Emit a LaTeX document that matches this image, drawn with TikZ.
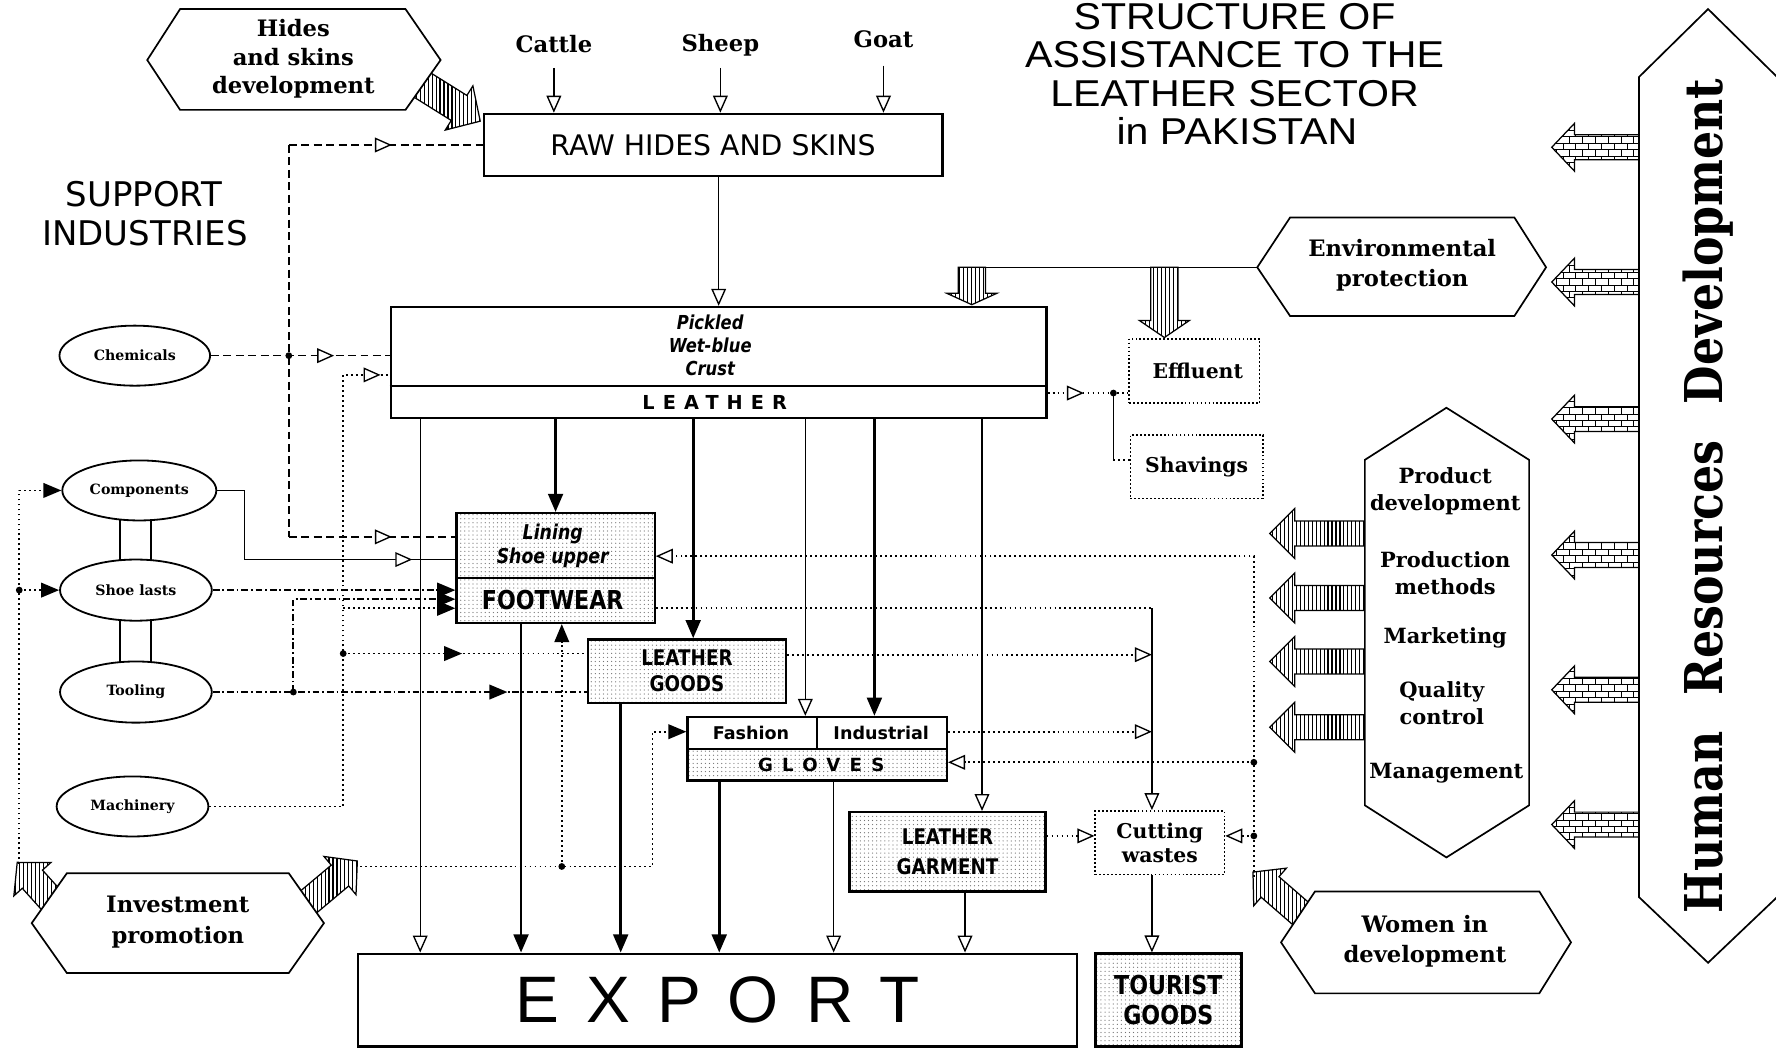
\documentclass[tikz,border=0pt]{standalone}
\usepackage{fontspec}
\setmainfont{DejaVu Serif}
\newfontfamily\serf{DejaVu Serif}
\newfontfamily\hrdf{DejaVu Serif}[FakeStretch=0.85]
\newfontfamily\dsans{DejaVu Sans}
\newfontfamily\csans{DejaVu Sans}[FakeStretch=0.85]
\newfontfamily\lsans{Liberation Sans}
\newfontfamily\tsans{Liberation Sans}[FakeStretch=1.1]
\usetikzlibrary{arrows.meta,decorations.markings,patterns,patterns.meta,backgrounds,shapes.geometric}
\newcommand{\fsz}[2]{\fontsize{#1pt}{#2pt}\selectfont}
% #1 style, #2 x, #3 y, #4 angle, #5 length, #6 body width, #7 head width, #8 head length
\newcommand{\fatarrow}[8]{%
 \pgfmathsetmacro{\FAc}{cos(#4)}\pgfmathsetmacro{\FAs}{-sin(#4)}%
 \pgfmathsetmacro{\FAl}{#5-#8}%
 \pgfmathsetmacro{\FAw}{(#6)/2}\pgfmathsetmacro{\FAh}{(#7)/2}%
 \path[#1]
  ({#2-\FAw*(\FAs)},{#3+\FAw*(\FAc)}) --
  ({#2+\FAl*(\FAc)-\FAw*(\FAs)},{#3+\FAl*(\FAs)+\FAw*(\FAc)}) --
  ({#2+\FAl*(\FAc)-\FAh*(\FAs)},{#3+\FAl*(\FAs)+\FAh*(\FAc)}) --
  ({#2+#5*(\FAc)},{#3+#5*(\FAs)}) --
  ({#2+\FAl*(\FAc)+\FAh*(\FAs)},{#3+\FAl*(\FAs)-\FAh*(\FAc)}) --
  ({#2+\FAl*(\FAc)+\FAw*(\FAs)},{#3+\FAl*(\FAs)-\FAw*(\FAc)}) --
  ({#2+\FAw*(\FAs)},{#3-\FAw*(\FAc)}) -- cycle;}
\tikzset{
 otri/.tip={Triangle[fill=white,length=15pt,width=13pt,line width=1.2pt]},
 ftri/.tip={Triangle[length=16pt,width=13pt]},
 box/.style={draw,line width=2pt,inner sep=0pt,align=center},
 dbox/.style={draw,line width=1.5pt,dash pattern=on 1.5pt off 2pt,inner sep=0pt,align=center},
 stip/.style={preaction={fill=white},pattern={Dots[radius=0.55pt,distance=3.6pt]},pattern color=black!55},
 thinc/.style={line width=1.2pt},
 thickc/.style={line width=2.4pt},
 dotc/.style={line width=1.6pt,dash pattern=on 1.6pt off 2.8pt},
 dashc/.style={line width=1.4pt,dash pattern=on 7pt off 4pt},
 ddc/.style={line width=1.6pt,dash pattern=on 6pt off 2.5pt on 1.6pt off 2.5pt},
 omid/.style={postaction={decorate,decoration={markings,mark=at position #1 with {\arrow{otri}}}}},
 fmid/.style={postaction={decorate,decoration={markings,mark=at position #1 with {\arrow{ftri}}}}},
 jdot/.style={circle,fill,inner sep=0pt,minimum size=6pt},
 hexa/.style={draw,line width=1.5pt,fill=white},
 hatch/.style={draw,line width=1.1pt,preaction={fill=white},pattern={Lines[angle=90,distance=3.5pt,line width=1pt]}},
 brick/.style={draw,line width=1.1pt,preaction={fill=white},pattern=bricks},
 lab/.style={align=center,inner sep=0pt},
 ell/.style={draw,ellipse,line width=1.6pt,fill=white,inner sep=0pt,font=\serf\bfseries\fsz{12.5}{14}},
 ttl/.style={anchor=base,inner sep=0pt,font=\tsans\fsz{33}{36}},
}
\begin{document}
\begin{tikzpicture}[x=1pt,y=-1pt]
\useasboundingbox (0,0) rectangle (1568,926);

% ---------- fat arrows (drawn first) ----------
\fatarrow{hatch}{368}{72}{-32}{66}{26}{46}{22}
\fatarrow{hatch}{50}{800}{132}{52}{24}{44}{20}
\fatarrow{hatch}{268}{800}{40}{62}{24}{44}{20}
\fatarrow{hatch}{1150}{808}{139}{58}{24}{44}{20}
\foreach \yy in {130,249,370,490,609,728} {\fatarrow{brick}{1447}{\yy}{180}{77}{22}{42}{20}}
\foreach \yy in {471,528,584,642} {\fatarrow{hatch}{1205}{\yy}{180}{84}{22}{44}{22}}
\coordinate (envw) at (1110,236);
\draw[thinc] (850,236) -- (envw);
\fatarrow{hatch}{858}{236}{-90}{33}{24}{44}{10}
\fatarrow{hatch}{1028}{236}{-90}{62}{24}{44}{15}

% ---------- title ----------
\node[ttl] (t1) at (1090,26) {STRUCTURE OF};
\node[ttl] (t2) at (1090,60) {ASSISTANCE TO THE};
\node[ttl] (t3) at (1090,94) {LEATHER SECTOR};
\node[ttl] (t4) at (1092,128) {in PAKISTAN};

% ---------- hexagons ----------
\draw[hexa] (130,53) -- (159,8) -- (358,8) -- (389,53) -- (358,97) -- (159,97) -- cycle;
\node[lab,font=\serf\bfseries\fsz{20}{25}] (hides) at (259,52) {Hides\\and skins\\development};
\draw[hexa] (envw) -- (1139,192) -- (1337,192) -- (1365,236) -- (1337,279) -- (1139,279) -- cycle;
\node[lab,font=\serf\bfseries\fsz{20}{27}] (envp) at (1238,234) {Environmental\\protection};
\draw[hexa] (1277,360) -- (1350,406) -- (1350,711) -- (1277,757) -- (1205,711) -- (1205,406) -- cycle;
\node[lab,font=\serf\bfseries\fsz{18.5}{24}] (prod1) at (1276,434) {Product\\development};
\node[lab,font=\serf\bfseries\fsz{18.5}{24}] (prod2) at (1276,506) {Production\\methods};
\node[lab,font=\serf\bfseries\fsz{18.5}{24}] (prod3) at (1276,563) {Marketing};
\node[lab,font=\serf\bfseries\fsz{18.5}{24}] (prod4) at (1273,621) {Quality\\control};
\node[lab,font=\serf\bfseries\fsz{18.5}{24}] (prod5) at (1277,683) {Management};
\draw[hexa] (1131,832) -- (1161,787) -- (1359,787) -- (1387,832) -- (1359,877) -- (1161,877) -- cycle;
\node[lab,font=\serf\bfseries\fsz{20}{27}] (women) at (1258,831) {Women in\\development};
\draw[hexa] (28,815) -- (59,771) -- (255,771) -- (286,815) -- (255,859) -- (59,859) -- cycle;
\node[lab,font=\serf\bfseries\fsz{20}{27}] (invest) at (157,814) {Investment\\promotion};
\draw[hexa] (1508,8) -- (1569,68) -- (1569,792) -- (1508,850) -- (1447,792) -- (1447,68) -- cycle;
\node[rotate=90,inner sep=0pt,font=\hrdf\bfseries\fsz{46}{50}] (hrd) at (1508,438) {{\spaceskip=32pt Human Resources Development}};

% ---------- labels ----------
\node[font=\serf\bfseries\fsz{20}{22}] (cattle) at (489,39) {Cattle};
\node[font=\serf\bfseries\fsz{20}{22}] (sheep) at (636,40) {Sheep};
\node[font=\serf\bfseries\fsz{20}{22}] (goat) at (780,35) {Goat};
\node[font=\dsans\fsz{30}{32}] (sup1) at (127,171) {SUPPORT};
\node[font=\dsans\fsz{30}{32}] (sup2) at (128,206) {INDUSTRIES};

% ---------- boxes ----------
\node[box,minimum width=405pt,minimum height=55pt,font=\dsans\fsz{25}{28}] (raw) at (629.5,128) {RAW HIDES AND SKINS};
\node[box,minimum width=579pt,minimum height=98pt] (leather) at (634.5,320) {};
\draw[line width=1.6pt] (leather.west |- 0,341) -- (leather.east |- 0,341);
\node[lab,font=\csans\bfseries\itshape\fsz{17}{20.5}] (leatherup) at (627,305) {Pickled\\Wet-blue\\Crust};
\node[inner sep=0pt,font=\dsans\bfseries\fsz{17}{20}\addfontfeature{LetterSpace=42}] (leatherlab) at (631,355) {LEATHER};

\node[box,stip,minimum width=175pt,minimum height=97pt] (footwear) at (490.5,501.5) {};
\draw[line width=1.6pt] (footwear.west |- 0,510) -- (footwear.east |- 0,510);
\node[lab,font=\csans\bfseries\itshape\fsz{18}{21}] (fwup) at (488,482) {Lining\\Shoe upper};
\node[lab,font=\csans\bfseries\fsz{23}{26}] (fwlab) at (488,530) {FOOTWEAR};

\node[box,stip,minimum width=175pt,minimum height=56pt,font=\csans\bfseries\fsz{19}{23}] (lgoods) at (606.5,592.5) {LEATHER\\GOODS};

\path[stip] (607,661) rectangle (836,689);
\node[box,minimum width=229pt,minimum height=56pt] (gloves) at (721.5,661) {};
\draw[line width=1.6pt] (gloves.west) -- (gloves.east);
\draw[line width=1.6pt] (721,0 |- gloves.north) -- (721,0 |- gloves.center);
\node[lab,font=\dsans\bfseries\fsz{15.5}{18}] (fashion) at (663,647) {Fashion};
\node[lab,font=\dsans\bfseries\fsz{15.5}{18}] (industrial) at (778,647) {Industrial};
\node[inner sep=0pt,font=\dsans\bfseries\fsz{16}{18}\addfontfeature{LetterSpace=51}] (gloveslab) at (725,675) {GLOVES};

\node[box,stip,minimum width=173pt,minimum height=70pt,font=\csans\bfseries\fsz{19}{26}] (garment) at (836.5,752) {LEATHER\\GARMENT};
\node[dbox,minimum width=114pt,minimum height=56pt,font=\serf\bfseries\fsz{18}{21}] (cutting) at (1024,744) {Cutting\\wastes};
\node[box,stip,line width=2.2pt,minimum width=129pt,minimum height=82pt,font=\csans\bfseries\fsz{23}{27}] (tourist) at (1031.5,883) {TOURIST\\GOODS};
\node[box,minimum width=635pt,minimum height=82pt,font=\lsans\fsz{58}{60}\addfontfeature{LetterSpace=41}] (export) at (633.5,883) {EXPORT};
\node[dbox,minimum width=115pt,minimum height=57pt,font=\serf\bfseries\fsz{18}{21}] (eff) at (1054.5,327.5) {\hspace*{6pt}Effluent};
\node[dbox,minimum width=117pt,minimum height=56pt,font=\serf\bfseries\fsz{18}{21}] (shav) at (1056.5,412) {Shavings};

% ---------- support ellipses ----------
\node[ell,minimum width=133pt,minimum height=53pt] (chem) at (119,314) {Chemicals};
\node[ell,minimum width=136pt,minimum height=53pt] (comp) at (123,433) {Components};
\node[ell,minimum width=134pt,minimum height=54pt] (shoe) at (120,521) {Shoe lasts};
\node[ell,minimum width=134pt,minimum height=54pt] (tool) at (120,611) {Tooling};
\node[ell,minimum width=134pt,minimum height=53pt] (mach) at (117,712) {Machinery};
\begin{pgfonlayer}{background}
\draw[line width=1.6pt] (106,0 |- comp.center) -- (106,0 |- shoe.center);
\draw[line width=1.6pt] (133,0 |- comp.center) -- (133,0 |- shoe.center);
\draw[line width=1.6pt] (106,0 |- shoe.center) -- (106,0 |- tool.center);
\draw[line width=1.6pt] (133,0 |- shoe.center) -- (133,0 |- tool.center);
\end{pgfonlayer}

% ---------- raw material arrows ----------
\draw[thinc,-otri] (cattle.south |- 0,60) -- (cattle.south |- raw.north);
\draw[thinc,-otri] (sheep.south |- 0,60) -- (sheep.south |- raw.north);
\draw[thinc,-otri] (goat.south |- 0,58) -- (goat.south |- raw.north);
\draw[thinc,-otri] (raw.south -| leather.north) -- (leather.north);

% ---------- support connectors ----------
\coordinate (dtop) at (255,128);
\coordinate (dbot) at (255,474);
\draw[dashc,omid=-80pt] (dtop) -- (dtop -| raw.west);
\draw[dashc] (dtop) -- (dbot);
\draw[dashc,omid=-56pt] (dbot) -- (dbot -| footwear.west);
\draw[dashc,omid=-49pt] (chem.east) -- (chem.east -| leather.west);
\node[jdot] (jc) at (255,314) {};

\coordinate (cbend) at (216,494);
\draw[thinc,omid=-38pt] (comp.east) -| (cbend) -- (cbend -| footwear.west);

\coordinate (mtop) at (303,331);
\coordinate (mbot) at (303,712);
\draw[dotc,omid=-8pt] (mach.east) -- (mbot) -- (mtop) -- (mtop -| leather.west);
\node[jdot] (jm1) at (303,577) {};
\draw[dotc,fmid=-110pt] (jm1.center) -- (jm1.center -| lgoods.west);
\coordinate (jm2) at (303,537);
\draw[dotc,-ftri] (jm2) -- (jm2 -| footwear.west);

\draw[ddc,-ftri] (shoe.east) -- (shoe.east -| footwear.west);
\draw[ddc,fmid=-70pt] (tool.east) -- (tool.east -| lgoods.west);
\node[jdot] (jt) at (259,611) {};
\draw[ddc,-ftri] (jt.center) |- (footwear.west |- 0,529);

\coordinate (lbot) at (17,763);
\coordinate (ltop) at (17,433);
\draw[dotc,-ftri] (lbot) -- (ltop) -- (comp.west);
\node[jdot] (jl) at (17,521) {};
\draw[dotc,-ftri] (jl.center) -- (shoe.west);

\coordinate (bstart) at (318,765);
\coordinate (bcorner) at (576,765);
\draw[dotc,-ftri] (bstart) -- (bcorner) |- (gloves.west |- 0,646);
\node[jdot] (jb) at (496,765) {};
\draw[dotc,-ftri] (jb.center) -- (jb.center |- footwear.south);

% ---------- leather flows ----------
\draw[thinc,-otri] (371,0 |- leather.south) -- (371,0 |- export.north);
\draw[thickc,-ftri] (footwear.north |- leather.south) -- (footwear.north);
\draw[thickc,-ftri] (612,0 |- leather.south) -- (612,0 |- lgoods.north);
\draw[thinc,-otri] (711,0 |- leather.south) -- (711,0 |- gloves.north);
\draw[thickc,-ftri] (772,0 |- leather.south) -- (772,0 |- gloves.north);
\draw[thinc,-otri] (867,0 |- leather.south) -- (867,0 |- garment.north);

\draw[thickc,-ftri] (460,0 |- footwear.south) -- (460,0 |- export.north);
\draw[thickc,-ftri] (548,0 |- lgoods.south) -- (548,0 |- export.north);
\draw[thickc,-ftri] (635,0 |- gloves.south) -- (635,0 |- export.north);
\draw[thinc,-otri] (736,0 |- gloves.south) -- (736,0 |- export.north);
\draw[thickc,-otri] (852,0 |- garment.south) -- (852,0 |- export.north);
\draw[thinc,-otri] (1017,0 |- cutting.south) -- (1017,0 |- tourist.north);

% ---------- wastes ----------
\draw[dotc,omid=32pt] (leather.east |- 0,347) -- (eff.west |- 0,347);
\node[jdot] (j1) at (983,347) {};
\draw[thinc] (j1.center) -- (j1.center |- 0,406);
\draw[dotc] (j1.center |- 0,406) -- (shav.west |- 0,406);

\coordinate (cv) at (1017,537);
\draw[dotc] (footwear.east |- cv) -- (cv);
\draw[thinc,-otri] (cv) -- (cv |- cutting.north);
\draw[dotc,-otri] (lgoods.east |- 0,578) -- (cv |- 0,578);
\draw[dotc,-otri] (gloves.east |- 0,646) -- (cv |- 0,646);
\draw[dotc,-otri] (garment.east |- 0,738) -- (cutting.west |- 0,738);

\coordinate (rtop) at (1107,491);
\coordinate (rbot) at (1107,774);
\draw[dotc,-otri] (rbot) -- (rtop) -- (rtop -| footwear.east);
\node[jdot] (jr1) at (1107,673) {};
\draw[dotc,-otri] (jr1.center) -- (jr1.center -| gloves.east);
\node[jdot] (jr2) at (1107,738) {};
\draw[dotc,-otri] (jr2.center) -- (jr2.center -| cutting.east);
\end{tikzpicture}
\end{document}
